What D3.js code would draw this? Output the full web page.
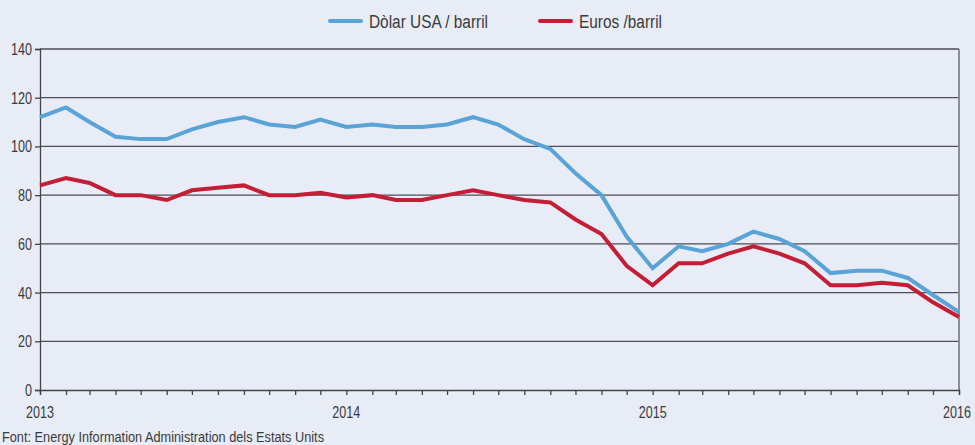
<!DOCTYPE html>
<meta charset="utf-8">
<style>
  body { margin: 0; background: #e8ecf6; }
  svg text { font-family: "Liberation Sans", Arial, sans-serif; fill: #3a3a3a; }
</style>
<body>
  <div id="chart"></div>
  <script src="https://d3js.org/d3.v7.min.js"></script>
  <script>
    // mensual, gener 2013 - gener 2016
    var months = d3.range(37).map(function(i) { return new Date(2013, i, 1); });
    var dolar = [112, 116, 110, 104, 103, 103, 107, 110, 112, 109, 108, 111,
                 108, 109, 108, 108, 109, 112, 109, 103, 99, 89, 80, 63,
                 50, 59, 57, 60, 65, 62, 57, 48, 49, 49, 46, 39, 32];
    var euros = [84, 87, 85, 80, 80, 78, 82, 83, 84, 80, 80, 81,
                 79, 80, 78, 78, 80, 82, 80, 78, 77, 70, 64, 51,
                 43, 52, 52, 56, 59, 56, 52, 43, 43, 44, 43, 36, 30];
    var yTicks = [0, 20, 40, 60, 80, 100, 120, 140];
    var years = [2013, 2014, 2015, 2016];
    var seriesNames = ["Dòlar USA / barril", "Euros /barril"];
    var colors = ["#5aa3d7", "#c41e36"];

    var width = 975, height = 445;
    var margin = { top: 49, right: 16, bottom: 55, left: 40 };
    var digitW = 7; // amplada aproximada d'un digit estret

    var svg = d3.select("#chart").append("svg")
      .attr("width", width)
      .attr("height", height);

    var x = d3.scaleTime()
      .domain([new Date(2013, 0, 1), new Date(2016, 0, 1)])
      .range([margin.left, width - margin.right]);

    var y = d3.scaleLinear()
      .domain([0, 140])
      .range([height - margin.bottom, margin.top]);

    // grid
    svg.append("g")
      .selectAll("line")
      .data(yTicks.filter(function(d) { return d > 0; }))
      .enter().append("line")
      .attr("x1", margin.left).attr("x2", width - margin.right)
      .attr("y1", function(d) { return y(d); })
      .attr("y2", function(d) { return y(d); })
      .attr("stroke", "#4d4d55")
      .attr("stroke-width", 1.3);

    // right border
    svg.append("line")
      .attr("x1", width - margin.right).attr("x2", width - margin.right)
      .attr("y1", y(140)).attr("y2", y(0))
      .attr("stroke", "#8a8c98").attr("stroke-width", 2);

    // Y axis
    var yAxis = svg.append("g")
      .attr("transform", "translate(" + margin.left + ",0)")
      .call(d3.axisLeft(y).tickValues(yTicks).tickSize(5).tickPadding(3));
    yAxis.select(".domain").attr("stroke", "#444").attr("stroke-width", 1.3);
    yAxis.selectAll(".tick line").attr("stroke", "#444").attr("stroke-width", 1.3);
    yAxis.selectAll("text")
      .style("font-size", "17px")
      .attr("fill", "#3a3a3a")
      .attr("lengthAdjust", "spacingAndGlyphs")
      .attr("textLength", function(d) { return String(d).length * digitW; });

    // X axis, ticks mensuals
    var xAxis = svg.append("g")
      .attr("transform", "translate(0," + y(0) + ")")
      .call(d3.axisBottom(x).tickValues(months).tickSize(5).tickFormat(""));
    xAxis.select(".domain").attr("stroke", "#444").attr("stroke-width", 1.3);
    xAxis.selectAll(".tick line").attr("stroke", "#444").attr("stroke-width", 1.3);

    // etiquetes d'any, estretes amb scale
    svg.append("g")
      .selectAll("text")
      .data(years)
      .enter().append("text")
      .attr("transform", function(d, i) {
        var cx = x(new Date(d, 0, 1)) - (i === years.length - 1 ? 2 : 0);
        return "translate(" + cx + "," + (y(0) + 28) + ") scale(0.74,1)";
      })
      .attr("text-anchor", "middle")
      .style("font-size", "17px")
      .text(function(d) { return d; });

    // lines
    var line = d3.line()
      .x(function(d, i) { return x(months[i]); })
      .y(function(d) { return y(d); });

    [dolar, euros].forEach(function(s, k) {
      svg.append("path")
        .datum(s)
        .attr("fill", "none")
        .attr("stroke", colors[k])
        .attr("stroke-width", 4)
        .attr("stroke-linejoin", "miter")
        .attr("d", line);
    });

    // legend
    var legendX = [330, 540];
    var legendW = [119, 83];
    var legend = svg.append("g");
    seriesNames.forEach(function(name, k) {
      legend.append("line")
        .attr("x1", legendX[k]).attr("x2", legendX[k] + 31)
        .attr("y1", 21).attr("y2", 21)
        .attr("stroke", colors[k]).attr("stroke-width", 4)
        .attr("stroke-linecap", "round");
      legend.append("text")
        .attr("x", legendX[k] + 39)
        .attr("y", 28)
        .style("font-size", "18px")
        .attr("lengthAdjust", "spacingAndGlyphs")
        .attr("textLength", legendW[k])
        .text(name);
    });

    // font
    svg.append("text")
      .attr("x", 2)
      .attr("y", 442)
      .style("font-size", "14px")
      .attr("lengthAdjust", "spacingAndGlyphs")
      .attr("textLength", 322)
      .text("Font: Energy Information Administration dels Estats Units");
  </script>
</body>
